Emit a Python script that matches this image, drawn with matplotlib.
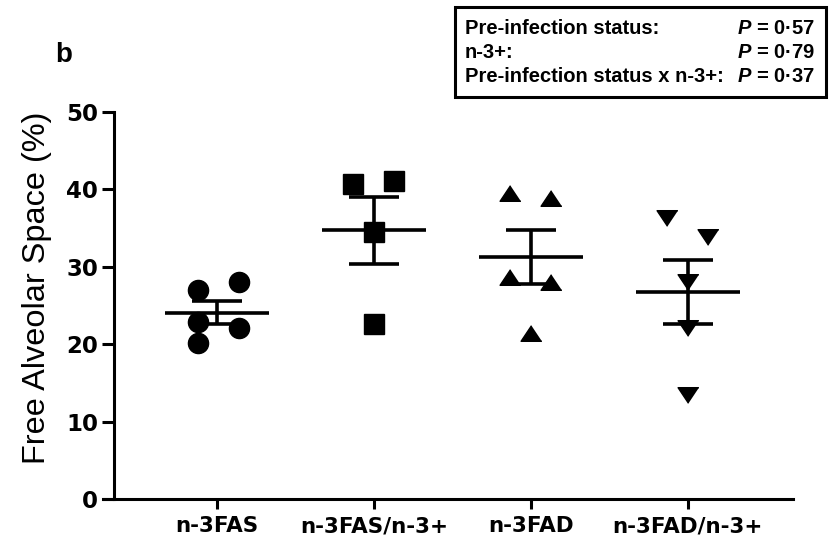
import matplotlib
matplotlib.use("Agg")
import matplotlib.pyplot as plt
import numpy as np

plt.rcParams['font.family'] = ['Liberation Sans', 'DejaVu Sans']
plt.rcParams['font.sans-serif'] = ['Liberation Sans']
plt.rcParams['mathtext.fontset'] = 'custom'
plt.rcParams['mathtext.bfit'] = 'sans:italic:bold'

# values
groups = ['n-3FAS', 'n-3FAS/n-3+', 'n-3FAD', 'n-3FAD/n-3+']
fas = [27.0, 28.0, 22.9, 22.1, 20.2]
fas_n3 = [40.7, 41.1, 34.5, 22.6]
fad = [39.5, 38.9, 28.7, 28.0, 21.4]
fad_n3 = [36.3, 33.9, 28.0, 22.1, 13.4]
yticks = [0, 10, 20, 30, 40, 50]
stats_lines = ['Pre-infection status:', 'n-3+:', 'Pre-infection status x n-3+:']
p_values = ['0·57', '0·79', '0·37']

# horizontal scatter offsets (layout only)
jitter = [[-0.12, 0.14, -0.12, 0.14, -0.12],
          [-0.13, 0.13, 0.0, 0.0],
          [-0.13, 0.13, -0.13, 0.13, 0.0],
          [-0.13, 0.13, 0.0, 0.0, 0.0]]
flat_up = [(0, 0.75), (-1, -0.75), (1, -0.75)]
flat_down = [(0, -0.75), (-1, 0.75), (1, 0.75)]
markers = ['o', 's', flat_up, flat_down]
msizes = [14.5, 15, 15, 15]

fig = plt.figure(figsize=(8.4, 5.49), dpi=100)
ax = fig.add_axes([0.1357, 0.0911, 0.8083, 0.7049])

data = [fas, fas_n3, fad, fad_n3]
for i, vals in enumerate(data):
    x = i + 1
    vals = np.array(vals)
    ax.plot(x + np.array(jitter[i]), vals, linestyle='none', marker=markers[i],
            ms=msizes[i], color='black', zorder=3)
    m = vals.mean()
    sem = vals.std(ddof=1) / np.sqrt(len(vals))
    ax.hlines(m, x - 0.33, x + 0.33, color='black', lw=2.6, zorder=4)
    ax.vlines(x, m - sem, m + sem, color='black', lw=2.6, zorder=4)
    ax.hlines([m - sem, m + sem], x - 0.16, x + 0.16, color='black', lw=2.6, zorder=4)

ax.set_xlim(0.344, 4.67)
ax.set_ylim(0, 50)
ax.set_yticks(yticks)
ax.set_xticks(range(1, 5))
ax.set_xticklabels(groups, fontsize=15.5, fontweight='bold', family='DejaVu Sans')
ax.set_yticklabels([str(t) for t in yticks], fontsize=16.5, fontweight='bold',
                   family='DejaVu Sans')
ax.tick_params(axis='y', length=8.5, width=2.2, pad=3)
ax.tick_params(axis='x', length=7.5, width=2.2, pad=5)
for s in ['top', 'right']:
    ax.spines[s].set_visible(False)
for s in ['left', 'bottom']:
    ax.spines[s].set_linewidth(2.2)
ax.spines['bottom'].set_bounds(0.274, 4.67)

ax.set_ylabel('Free Alveolar Space (%)', fontsize=23.4)
ax.yaxis.set_label_coords(-0.091, 0.545)

fig.text(55 / 840, 1 - 62 / 549, 'b', fontsize=20, fontweight='bold')

# stats box
box = plt.Rectangle((455 / 840, 1 - 97 / 549), 371 / 840, 90 / 549,
                    transform=fig.transFigure, fill=False, lw=2.2, ec='black')
fig.patches.append(box)
for k, (lab, p) in enumerate(zip(stats_lines, p_values)):
    yy = 1 - (28 + 24.5 * k) / 549
    fig.text(465 / 840, yy, lab, fontsize=14.5, fontweight='bold', va='center')
    fig.text(815 / 840, yy, r'$\bfit{P}$' + ' = ' + p, fontsize=14.5,
             fontweight='bold', va='center', ha='right')

fig.savefig('out.png', dpi=100)
